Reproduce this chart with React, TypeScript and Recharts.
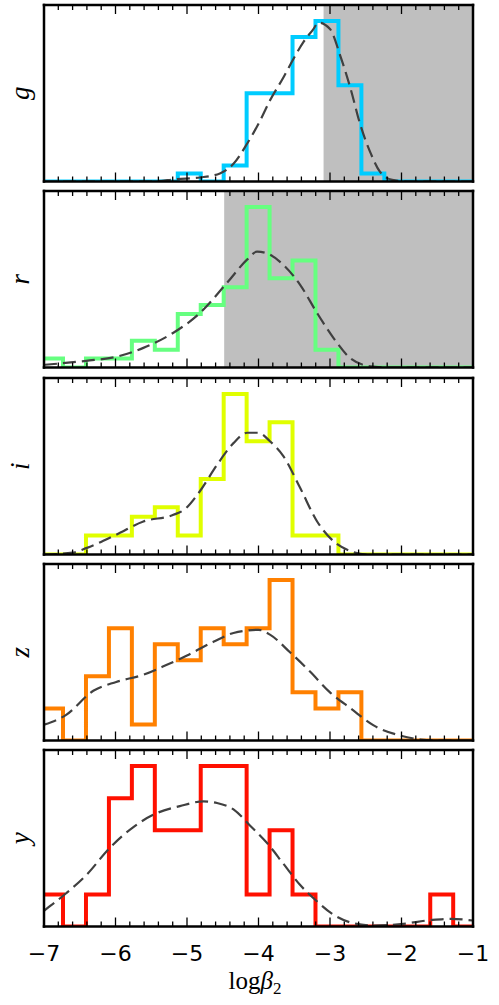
import React from 'react';
import { ComposedChart, Line, XAxis, YAxis, ReferenceArea } from 'recharts';

// shared histogram bin edges (log beta_2)
const binEdges = [
  -7.055, -6.734, -6.413, -6.092, -5.771, -5.45, -5.129, -4.808, -4.487, -4.166,
  -3.845, -3.524, -3.203, -2.882, -2.561, -2.24, -1.919, -1.598, -1.277, -0.956,
];

// counts per bin, one array per filter
const gCounts = [0, 0, 0, 0, 0, 0, 1, 0, 2, 11, 11, 18, 20, 12, 1, 0, 0, 0, 0];
const rCounts = [1, 0, 1, 1, 3, 2, 6, 7, 9, 18, 10, 12, 2, 0, 0, 0, 0, 0, 0];
const iCounts = [0, 0, 2, 2, 4, 5, 2, 8, 17, 12, 14, 2, 2, 0, 0, 0, 0, 0, 0];
const zCounts = [2, 0, 4, 7, 1, 6, 5, 7, 6, 7, 10, 3, 2, 3, 0, 0, 0, 0, 0];
const yCounts = [2, 0, 2, 8, 10, 6, 6, 10, 10, 2, 6, 2, 0, 0, 0, 0, 0, 2, 0];

// dashed smooth curves, [x, value]
const gCurve: [number, number][] = [
  [-7, 0], [-5.5, 0], [-5.14, 0.3], [-4.82, 0.5], [-4.54, 1.0], [-4.35, 2.2], [-4.16, 4.7],
  [-4.0, 7.2], [-3.84, 10.1], [-3.65, 13], [-3.51, 15.3], [-3.37, 17.4], [-3.24, 18.9],
  [-3.16, 19.8], [-3.0, 19.0], [-2.85, 15.5], [-2.71, 11.5], [-2.58, 7.2], [-2.43, 3.5],
  [-2.3, 1.2], [-2.13, 0.2], [-1.92, 0], [-1, 0],
];
const rCurve: [number, number][] = [
  [-7, 0.3], [-6.41, 0.75], [-5.99, 1.2], [-5.61, 2.2], [-5.19, 3.9], [-4.82, 6.1],
  [-4.44, 9.5], [-4.16, 12.1], [-4.02, 13], [-3.88, 12.8], [-3.65, 11.5], [-3.42, 9.3],
  [-3.18, 6.1], [-2.95, 3.3], [-2.71, 1.0], [-2.48, 0.2], [-2.2, 0], [-1, 0],
];
const iCurve: [number, number][] = [
  [-7, 0], [-6.6, 0.2], [-6.4, 0.7], [-5.99, 2.1], [-5.61, 3.5], [-5.19, 4.2], [-5.03, 4.8],
  [-4.82, 6.7], [-4.58, 9.5], [-4.35, 11.8], [-4.16, 12.9], [-4.0, 12.9], [-3.84, 12],
  [-3.65, 10.4], [-3.42, 7.1], [-3.18, 3.5], [-2.95, 1.4], [-2.71, 0.35], [-2.5, 0], [-1, 0],
];
const zCurve: [number, number][] = [
  [-7, 0.98], [-6.69, 1.6], [-6.31, 3.1], [-5.99, 3.65], [-5.61, 4.1], [-5.29, 4.7],
  [-5.0, 5.3], [-4.63, 6.15], [-4.35, 6.7], [-4.0, 6.9], [-3.84, 6.6], [-3.56, 5.5],
  [-3.28, 4.3], [-3.0, 3.0], [-2.71, 2.0], [-2.39, 0.94], [-2.01, 0.3], [-1.73, 0.06],
  [-1.5, 0], [-1, 0],
];
const yCurve: [number, number][] = [
  [-7, 0.98], [-6.69, 2.07], [-6.41, 3.2], [-6.08, 4.9], [-5.75, 6.2], [-5.43, 7.05],
  [-5.1, 7.5], [-4.77, 7.8], [-4.58, 7.7], [-4.35, 7.3], [-4.12, 6.3], [-3.88, 5.2],
  [-3.65, 3.9], [-3.42, 2.6], [-3.18, 1.56], [-2.95, 0.73], [-2.67, 0.2], [-2.39, 0.06],
  [-2.01, 0.15], [-1.59, 0.4], [-1.31, 0.48], [-1, 0.37],
];

const xTicks = [
  -7, -6.8, -6.6, -6.4, -6.2, -6, -5.8, -5.6, -5.4, -5.2, -5, -4.8, -4.6, -4.4, -4.2, -4,
  -3.8, -3.6, -3.4, -3.2, -3, -2.8, -2.6, -2.4, -2.2, -2, -1.8, -1.6, -1.4, -1.2, -1,
];
const tickLabels = ['\u22127', '\u22126', '\u22125', '\u22124', '\u22123', '\u22122', '\u22121'];

const W = 499;
const PLOT_LEFT = 44;
const PLOT_RIGHT = 473;
const PLOT_H = 176.5;
const PAD = 10;
const AX = 1; // thickness reserved by each axis box
const panelTops = [5, 191.25, 377.5, 563.75, 750];
const frame = { stroke: '#000', strokeWidth: 2.5, strokeLinecap: 'square' as const };

const histPoints = (counts: number[]) =>
  binEdges.map((x, k) => ({ x, v: counts[Math.min(k, counts.length - 1)] }));
const curvePoints = (c: [number, number][]) => c.map(([x, v]) => ({ x, v }));

const panels = [
  { name: 'g', color: '#00ccff', counts: gCounts, curve: gCurve, yMax: 22, shadeFrom: -3.09 },
  { name: 'r', color: '#66ff80', counts: rCounts, curve: rCurve, yMax: 19.8, shadeFrom: -4.48 },
  { name: 'i', color: '#e0ff00', counts: iCounts, curve: iCurve, yMax: 18.7, shadeFrom: null },
  { name: 'z', color: '#ff8000', counts: zCounts, curve: zCurve, yMax: 11, shadeFrom: null },
  { name: 'y', color: '#ff1000', counts: yCounts, curve: yCurve, yMax: 11, shadeFrom: null },
];

function makeTick(showLabels: boolean) {
  return (props: any) => {
    const { x, payload } = props;
    const v = payload.value;
    const major = Math.abs(v - Math.round(v)) < 1e-6;
    const len = major ? 9 : 5;
    const top = PAD;
    const bottom = PAD + PLOT_H;
    return (
      <g>
        <line x1={x} x2={x} y1={bottom} y2={bottom - len} stroke="#000" strokeWidth={1.3} />
        <line x1={x} x2={x} y1={top} y2={top + len} stroke="#000" strokeWidth={1.3} />
        {showLabels && major && (
          <text x={x} y={bottom + 34.5} textAnchor="middle" fontFamily="DejaVu Sans" fontSize={22} fill="#000">
            {tickLabels[Math.round(v) + 7]}
          </text>
        )}
      </g>
    );
  };
}

function letterLabel(letter: string) {
  return () => {
    const cy = PAD + PLOT_H / 2;
    return (
      <text
        x={20}
        y={cy}
        transform={`rotate(-90, 20, ${cy})`}
        textAnchor="middle"
        dominantBaseline="central"
        fontFamily="Liberation Serif"
        fontStyle="italic"
        fontSize={27}
        fill="#000"
      >
        {letter}
      </text>
    );
  };
}

const xLabel = () => (
  <text x={255} y={PAD + PLOT_H + 62} textAnchor="middle" fontFamily="Liberation Serif" fontSize={25} fill="#000">
    log<tspan fontStyle="italic">β</tspan>
    <tspan fontSize={17} dy={5}>2</tspan>
  </text>
);

function Panel({ p, last }: { p: (typeof panels)[number]; last: boolean }) {
  const height = last ? 1005 - (panelTops[4] - PAD) : PLOT_H + 2 * PAD;
  const bottomMargin = height - PAD - PLOT_H;
  return (
    <ComposedChart
      width={W}
      height={height}
      margin={{ top: PAD - AX, right: W - PLOT_RIGHT - AX, bottom: bottomMargin - AX, left: PLOT_LEFT - AX }}
    >
      <XAxis
        dataKey="x"
        type="number"
        domain={[-7, -1]}
        allowDataOverflow
        ticks={xTicks}
        interval={0}
        height={AX}
        tickLine={false}
        axisLine={frame}
        tick={makeTick(last)}
        label={last ? xLabel : undefined}
      />
      <XAxis
        xAxisId="top"
        orientation="top"
        dataKey="x"
        type="number"
        domain={[-7, -1]}
        allowDataOverflow
        height={AX}
        tick={false}
        tickLine={false}
        axisLine={frame}
      />
      <YAxis
        type="number"
        domain={[0, p.yMax]}
        allowDataOverflow
        width={AX}
        tick={false}
        tickLine={false}
        axisLine={frame}
        label={letterLabel(p.name)}
      />
      <YAxis
        yAxisId="right"
        orientation="right"
        type="number"
        domain={[0, p.yMax]}
        allowDataOverflow
        width={AX}
        tick={false}
        tickLine={false}
        axisLine={frame}
      />
      {p.shadeFrom !== null && (
        <ReferenceArea
          x1={p.shadeFrom}
          x2={-1}
          y1={0}
          y2={p.yMax}
          fill="#bfbfbf"
          fillOpacity={1}
          stroke="none"
        />
      )}
      <Line
        data={histPoints(p.counts)}
        dataKey="v"
        type="stepAfter"
        stroke={p.color}
        strokeWidth={4}
        strokeLinejoin="miter"
        dot={false}
        activeDot={false}
        isAnimationActive={false}
      />
      <Line
        data={curvePoints(p.curve)}
        dataKey="v"
        type="monotone"
        stroke="#404040"
        strokeWidth={2.2}
        strokeDasharray="13 6"
        dot={false}
        activeDot={false}
        isAnimationActive={false}
      />
    </ComposedChart>
  );
}

export default function App() {
  return (
    <div style={{ position: 'absolute', left: 0, top: 0, width: W, height: 1005, background: '#fff' }}>
      {panels.map((p, k) => (
        <div key={p.name} style={{ position: 'absolute', left: 0, top: panelTops[k] - PAD }}>
          <Panel p={p} last={k === panels.length - 1} />
        </div>
      ))}
    </div>
  );
}
